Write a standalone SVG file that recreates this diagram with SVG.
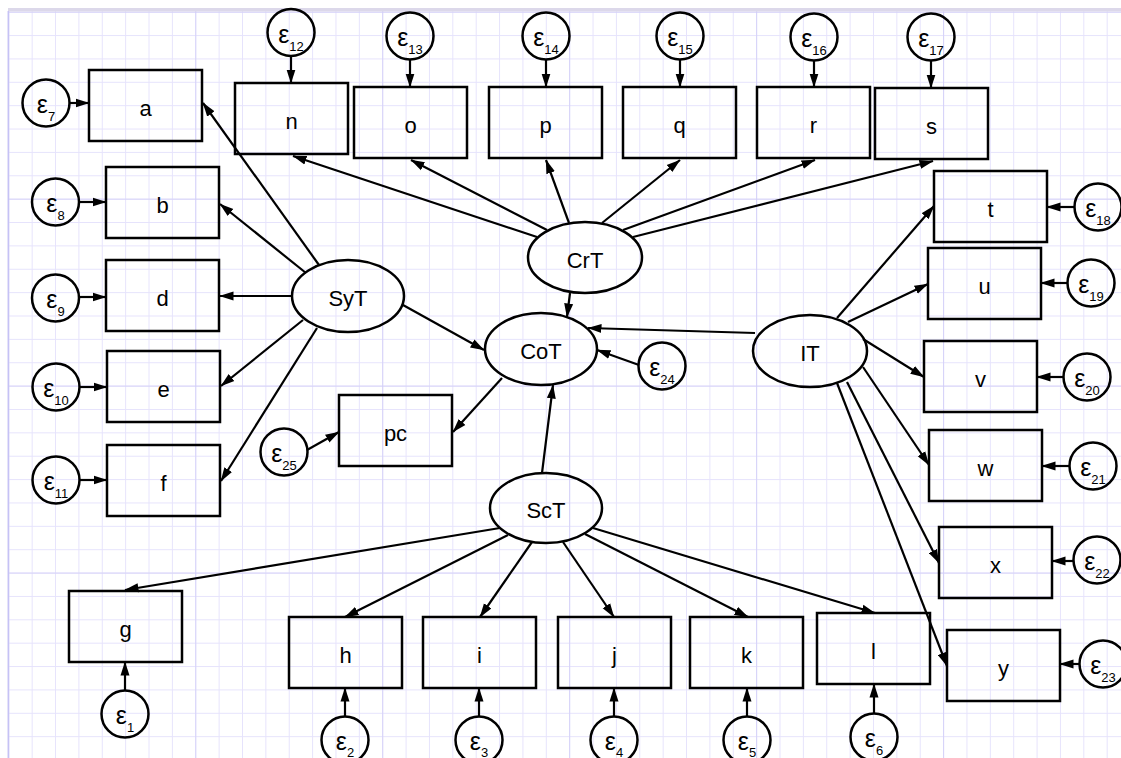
<svg xmlns="http://www.w3.org/2000/svg" width="1121" height="758" viewBox="0 0 1121 758">
<defs>
<style>
.box{fill:none;stroke:#000;stroke-width:2.5}
.lat{fill:none;stroke:#000;stroke-width:2.5}
.err{fill:none;stroke:#000;stroke-width:2.5}
.lbl{font-family:"Liberation Sans",Arial,sans-serif;font-size:22px;fill:#000;text-anchor:middle}
.eps{font-family:"Liberation Sans",Arial,sans-serif;font-size:25px;fill:#000;text-anchor:middle}
.sub{font-size:13px}
#connectors line{stroke:#000;stroke-width:2.2;marker-end:url(#ah)}
</style>
<marker id="ah" markerWidth="14" markerHeight="10" refX="13.5" refY="5" orient="auto" markerUnits="userSpaceOnUse">
<path d="M0,0.5 L14,5 L0,9.5 z" fill="#000"/>
</marker>
<pattern id="minor" x="8.3" y="11.7" width="23.37" height="23.37" patternUnits="userSpaceOnUse">
<path d="M0,0 V23.37 M0,0 H23.37" stroke="#e6e3fc" stroke-width="2" fill="none"/>
</pattern>
<pattern id="major" x="8.3" y="11.7" width="186.96" height="186.96" patternUnits="userSpaceOnUse">
<path d="M0,0 V186.96 M0,0 H186.96" stroke="#d0ccf7" stroke-width="1.5" fill="none"/>
</pattern>
</defs>
<rect width="1121" height="758" fill="#fff"/>
<rect x="8" y="11" width="1113" height="747" fill="url(#minor)"/>
<rect x="8" y="11" width="1113" height="747" fill="url(#major)"/>
<rect x="8" y="8" width="1113" height="3.5" fill="#dcd8ea"/>
<line x1="8.3" y1="11" x2="8.3" y2="758" stroke="#c6c2f5" stroke-width="1.5"/>

<g id="connectors">
<line x1="319" y1="265" x2="203" y2="103"/>
<line x1="306" y1="273" x2="220" y2="204"/>
<line x1="292" y1="296" x2="220" y2="296"/>
<line x1="303" y1="320" x2="221" y2="386"/>
<line x1="317" y1="328" x2="221" y2="481"/>
<line x1="403" y1="305" x2="484" y2="350"/>
<line x1="537" y1="237" x2="293" y2="156"/>
<line x1="547" y1="230" x2="411" y2="160"/>
<line x1="569" y1="223" x2="546" y2="160"/>
<line x1="602" y1="223" x2="680" y2="160"/>
<line x1="623" y1="230" x2="815" y2="160"/>
<line x1="633" y1="237" x2="933" y2="161"/>
<line x1="570" y1="293" x2="567" y2="317"/>
<line x1="755" y1="333" x2="588" y2="328"/>
<line x1="837" y1="318" x2="934" y2="206"/>
<line x1="848" y1="322" x2="928" y2="284"/>
<line x1="863" y1="339" x2="924" y2="377"/>
<line x1="863" y1="367" x2="929" y2="465"/>
<line x1="847" y1="382" x2="939" y2="563"/>
<line x1="837" y1="383" x2="947" y2="666"/>
<line x1="500" y1="528" x2="125" y2="590"/>
<line x1="508" y1="535" x2="345" y2="617"/>
<line x1="532" y1="542" x2="480" y2="617"/>
<line x1="563" y1="542" x2="614" y2="617"/>
<line x1="585" y1="534" x2="748" y2="617"/>
<line x1="593" y1="528" x2="875" y2="613"/>
<line x1="542" y1="473" x2="553" y2="385"/>
<line x1="502" y1="378" x2="453" y2="432"/>
<line x1="69.5" y1="103" x2="89" y2="103"/>
<line x1="79" y1="202" x2="106" y2="202"/>
<line x1="79" y1="297" x2="106" y2="297"/>
<line x1="80" y1="387" x2="107" y2="387"/>
<line x1="80" y1="480" x2="107" y2="480"/>
<line x1="291" y1="56" x2="291" y2="83"/>
<line x1="410" y1="60" x2="410" y2="87"/>
<line x1="546" y1="60" x2="546" y2="87"/>
<line x1="680" y1="60" x2="680" y2="87"/>
<line x1="814" y1="61" x2="814" y2="87"/>
<line x1="931" y1="61" x2="931" y2="88"/>
<line x1="1074" y1="207" x2="1047" y2="207"/>
<line x1="1068" y1="283" x2="1041" y2="283"/>
<line x1="1064" y1="377" x2="1037" y2="377"/>
<line x1="1070" y1="466" x2="1042" y2="466"/>
<line x1="1073" y1="561" x2="1052" y2="561"/>
<line x1="1079" y1="664" x2="1060" y2="664"/>
<line x1="125" y1="690" x2="125" y2="662"/>
<line x1="345" y1="716" x2="345" y2="688"/>
<line x1="479" y1="716" x2="479" y2="688"/>
<line x1="614" y1="716" x2="614" y2="688"/>
<line x1="747" y1="716" x2="747" y2="688"/>
<line x1="874" y1="713" x2="874" y2="684"/>
<line x1="639" y1="365" x2="597" y2="350"/>
<line x1="307" y1="450" x2="339" y2="432"/>
</g>

<g id="SyT"><ellipse class="lat" cx="348" cy="296" rx="56" ry="36"/><text class="lbl" x="348" y="306">SyT</text></g>
<g id="CrT"><ellipse class="lat" cx="585" cy="257.5" rx="57" ry="35.5"/><text class="lbl" x="585" y="268">CrT</text></g>
<g id="CoT"><ellipse class="lat" cx="541" cy="349" rx="56" ry="36"/><text class="lbl" x="541" y="359">CoT</text></g>
<g id="IT"><ellipse class="lat" cx="810" cy="351" rx="57" ry="36"/><text class="lbl" x="810" y="361">IT</text></g>
<g id="ScT"><ellipse class="lat" cx="546" cy="508" rx="56" ry="35"/><text class="lbl" x="546" y="518">ScT</text></g>

<g id="a"><rect class="box" x="89" y="70" width="113" height="71"/><text class="lbl" x="145.5" y="116">a</text></g>
<g id="n"><rect class="box" x="235" y="83" width="113" height="71"/><text class="lbl" x="291.5" y="129">n</text></g>
<g id="b"><rect class="box" x="106" y="167" width="113" height="71"/><text class="lbl" x="162.5" y="213">b</text></g>
<g id="o"><rect class="box" x="354" y="87" width="113" height="71"/><text class="lbl" x="410.5" y="133">o</text></g>
<g id="p"><rect class="box" x="489" y="87" width="113" height="71"/><text class="lbl" x="545.5" y="133">p</text></g>
<g id="q"><rect class="box" x="623" y="87" width="113" height="71"/><text class="lbl" x="679.5" y="133">q</text></g>
<g id="r"><rect class="box" x="757" y="87" width="113" height="71"/><text class="lbl" x="813.5" y="133">r</text></g>
<g id="s"><rect class="box" x="875" y="88" width="113" height="71"/><text class="lbl" x="931.5" y="134">s</text></g>
<g id="t"><rect class="box" x="934" y="171" width="113" height="71"/><text class="lbl" x="990.5" y="217">t</text></g>
<g id="u"><rect class="box" x="928" y="248" width="113" height="71"/><text class="lbl" x="984.5" y="294">u</text></g>
<g id="v"><rect class="box" x="924" y="341" width="113" height="71"/><text class="lbl" x="980.5" y="387">v</text></g>
<g id="w"><rect class="box" x="929" y="430" width="113" height="71"/><text class="lbl" x="985.5" y="476">w</text></g>
<g id="x"><rect class="box" x="939" y="527" width="113" height="71"/><text class="lbl" x="995.5" y="573">x</text></g>
<g id="y"><rect class="box" x="947" y="630" width="113" height="71"/><text class="lbl" x="1003.5" y="676">y</text></g>
<g id="l"><rect class="box" x="817" y="613" width="113" height="71"/><text class="lbl" x="873.5" y="659">l</text></g>
<g id="k"><rect class="box" x="690" y="617" width="113" height="71"/><text class="lbl" x="746.5" y="663">k</text></g>
<g id="j"><rect class="box" x="558" y="617" width="113" height="71"/><text class="lbl" x="614.5" y="663">j</text></g>
<g id="i"><rect class="box" x="423" y="617" width="113" height="71"/><text class="lbl" x="479.5" y="663">i</text></g>
<g id="h"><rect class="box" x="289" y="617" width="113" height="71"/><text class="lbl" x="345.5" y="663">h</text></g>
<g id="g"><rect class="box" x="69" y="591" width="113" height="71"/><text class="lbl" x="125.5" y="637">g</text></g>
<g id="d"><rect class="box" x="106" y="260" width="113" height="71"/><text class="lbl" x="162.5" y="306">d</text></g>
<g id="e"><rect class="box" x="107" y="351" width="113" height="71"/><text class="lbl" x="163.5" y="397">e</text></g>
<g id="f"><rect class="box" x="107" y="445" width="113" height="71"/><text class="lbl" x="163.5" y="491">f</text></g>
<g id="pc"><rect class="box" x="339" y="395" width="113" height="71"/><text class="lbl" x="395.5" y="441">pc</text></g>

<g id="e1"><circle class="err" cx="125" cy="714" r="23.5"/><text class="eps" x="125" y="724">ε<tspan class="sub" dy="8">1</tspan></text></g>
<g id="e2"><circle class="err" cx="345" cy="740" r="23.5"/><text class="eps" x="345" y="750">ε<tspan class="sub" dy="7">2</tspan></text></g>
<g id="e3"><circle class="err" cx="479" cy="740" r="23.5"/><text class="eps" x="479" y="750">ε<tspan class="sub" dy="7">3</tspan></text></g>
<g id="e4"><circle class="err" cx="614" cy="740" r="23.5"/><text class="eps" x="614" y="750">ε<tspan class="sub" dy="7">4</tspan></text></g>
<g id="e5"><circle class="err" cx="747" cy="740" r="23.5"/><text class="eps" x="747" y="750">ε<tspan class="sub" dy="7">5</tspan></text></g>
<g id="e6"><circle class="err" cx="874" cy="737" r="23.5"/><text class="eps" x="874" y="747">ε<tspan class="sub" dy="8">6</tspan></text></g>
<g id="e7"><circle class="err" cx="46" cy="103" r="23.5"/><text class="eps" x="46" y="113">ε<tspan class="sub" dy="8">7</tspan></text></g>
<g id="e8"><circle class="err" cx="55.5" cy="202" r="23.5"/><text class="eps" x="55.5" y="212">ε<tspan class="sub" dy="8">8</tspan></text></g>
<g id="e9"><circle class="err" cx="55.5" cy="298" r="23.5"/><text class="eps" x="55.5" y="308">ε<tspan class="sub" dy="8">9</tspan></text></g>
<g id="e10"><circle class="err" cx="56" cy="387" r="23.5"/><text class="eps" x="56" y="397">ε<tspan class="sub" dy="8">10</tspan></text></g>
<g id="e11"><circle class="err" cx="56" cy="480" r="23.5"/><text class="eps" x="56" y="490">ε<tspan class="sub" dy="8">11</tspan></text></g>
<g id="e12"><circle class="err" cx="291" cy="32.5" r="23.5"/><text class="eps" x="291" y="42.5">ε<tspan class="sub" dy="8">12</tspan></text></g>
<g id="e13"><circle class="err" cx="410" cy="36" r="23.5"/><text class="eps" x="410" y="46">ε<tspan class="sub" dy="8">13</tspan></text></g>
<g id="e14"><circle class="err" cx="546" cy="36" r="23.5"/><text class="eps" x="546" y="46">ε<tspan class="sub" dy="8">14</tspan></text></g>
<g id="e15"><circle class="err" cx="680" cy="36" r="23.5"/><text class="eps" x="680" y="46">ε<tspan class="sub" dy="8">15</tspan></text></g>
<g id="e16"><circle class="err" cx="814" cy="37" r="23.5"/><text class="eps" x="814" y="47">ε<tspan class="sub" dy="8">16</tspan></text></g>
<g id="e17"><circle class="err" cx="931" cy="37" r="23.5"/><text class="eps" x="931" y="47">ε<tspan class="sub" dy="8">17</tspan></text></g>
<g id="e18"><circle class="err" cx="1098" cy="207" r="23.5"/><text class="eps" x="1098" y="217">ε<tspan class="sub" dy="8">18</tspan></text></g>
<g id="e19"><circle class="err" cx="1091" cy="283" r="23.5"/><text class="eps" x="1091" y="293">ε<tspan class="sub" dy="8">19</tspan></text></g>
<g id="e20"><circle class="err" cx="1087" cy="377" r="23.5"/><text class="eps" x="1087" y="387">ε<tspan class="sub" dy="8">20</tspan></text></g>
<g id="e21"><circle class="err" cx="1093" cy="466" r="23.5"/><text class="eps" x="1093" y="476">ε<tspan class="sub" dy="8">21</tspan></text></g>
<g id="e22"><circle class="err" cx="1097" cy="560" r="23.5"/><text class="eps" x="1097" y="570">ε<tspan class="sub" dy="8">22</tspan></text></g>
<g id="e23"><circle class="err" cx="1103" cy="664" r="23.5"/><text class="eps" x="1103" y="674">ε<tspan class="sub" dy="8">23</tspan></text></g>
<g id="e24"><circle class="err" cx="662" cy="366" r="23.5"/><text class="eps" x="662" y="376">ε<tspan class="sub" dy="8">24</tspan></text></g>
<g id="e25"><circle class="err" cx="284" cy="452" r="23.5"/><text class="eps" x="284" y="462">ε<tspan class="sub" dy="8">25</tspan></text></g>
</svg>
